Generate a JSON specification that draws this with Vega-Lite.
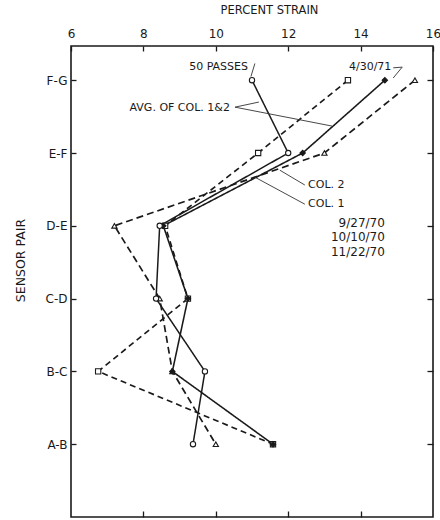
{
  "$schema": "https://vega.github.io/schema/vega-lite/v6.json",
  "width": 362,
  "height": 471,
  "autosize": {"type": "none"},
  "padding": {"left": 71, "top": 46, "right": 7, "bottom": 3},
  "background": "white",
  "config": {
    "view": {"stroke": "#1a1a1a", "strokeWidth": 1.6},
    "font": "DejaVu Sans",
    "axis": {"labelColor": "#1a1a1a", "titleColor": "#1a1a1a", "tickColor": "#1a1a1a", "grid": false, "domain": false, "tickWidth": 1.3}
  },
  "datasets": {
    "series": [
      {"series": "tri", "pair": "F-G", "level": 6, "strain": 15.5},
      {"series": "tri", "pair": "E-F", "level": 5, "strain": 13.0},
      {"series": "tri", "pair": "D-E", "level": 4, "strain": 7.2},
      {"series": "tri", "pair": "C-D", "level": 3, "strain": 8.45},
      {"series": "tri", "pair": "B-C", "level": 2, "strain": 8.8},
      {"series": "tri", "pair": "A-B", "level": 1, "strain": 10.0},
      {"series": "sq", "pair": "F-G", "level": 6, "strain": 13.65},
      {"series": "sq", "pair": "E-F", "level": 5, "strain": 11.17},
      {"series": "sq", "pair": "D-E", "level": 4, "strain": 8.6},
      {"series": "sq", "pair": "C-D", "level": 3, "strain": 9.23},
      {"series": "sq", "pair": "B-C", "level": 2, "strain": 6.75},
      {"series": "sq", "pair": "A-B", "level": 1, "strain": 11.58},
      {"series": "dia", "pair": "F-G", "level": 6, "strain": 14.67},
      {"series": "dia", "pair": "E-F", "level": 5, "strain": 12.4},
      {"series": "dia", "pair": "D-E", "level": 4, "strain": 8.55},
      {"series": "dia", "pair": "C-D", "level": 3, "strain": 9.23},
      {"series": "dia", "pair": "B-C", "level": 2, "strain": 8.8},
      {"series": "dia", "pair": "A-B", "level": 1, "strain": 11.58},
      {"series": "circ", "pair": "F-G", "level": 6, "strain": 11.0},
      {"series": "circ", "pair": "E-F", "level": 5, "strain": 12.0},
      {"series": "circ", "pair": "D-E", "level": 4, "strain": 8.45},
      {"series": "circ", "pair": "C-D", "level": 3, "strain": 8.35},
      {"series": "circ", "pair": "B-C", "level": 2, "strain": 9.7},
      {"series": "circ", "pair": "A-B", "level": 1, "strain": 9.37}
    ],
    "labelsRight": [
      {"text": "50 PASSES", "x": 10.89, "y": 6.18},
      {"text": "AVG. OF COL. 1&2", "x": 10.39, "y": 5.615},
      {"text": "4/30/71", "x": 14.85, "y": 6.18}
    ],
    "dates": [
      {"text": "9/27/70", "x": 14.67, "y": 4.036},
      {"text": "10/10/70", "x": 14.67, "y": 3.843},
      {"text": "11/22/70", "x": 14.67, "y": 3.637}
    ],
    "labelsLeft": [
      {"text": "COL. 2", "x": 12.55, "y": 4.558},
      {"text": "COL. 1", "x": 12.55, "y": 4.297}
    ],
    "leaders": [
      {"x": 11.08, "y": 6.23, "x2": 10.97, "y2": 6.05},
      {"x": 14.9, "y": 6.17, "x2": 15.15, "y2": 6.18},
      {"x": 15.15, "y": 6.18, "x2": 14.9, "y2": 6.03},
      {"x": 10.53, "y": 5.63, "x2": 11.19, "y2": 5.7},
      {"x": 10.53, "y": 5.63, "x2": 13.21, "y2": 5.37},
      {"x": 12.46, "y": 4.56, "x2": 11.77, "y2": 4.764},
      {"x": 12.46, "y": 4.297, "x2": 11.08, "y2": 4.668}
    ]
  },
  "resolve": {"axis": {"x": "independent", "y": "independent"}},
  "layer": [
    {
      "data": {"name": "series"},
      "mark": {"type": "line", "color": "#1a1a1a"},
      "encoding": {
        "x": {"field": "strain", "type": "quantitative", "scale": {"domain": [6, 16], "nice": false, "zero": false},
          "axis": {"orient": "top", "values": [6, 8, 10, 12, 14, 16], "tickSize": -5, "labelPadding": 11, "labelFontSize": 12, "labelFlush": false,
            "title": "PERCENT STRAIN", "titleFontSize": 11.5, "titleFontWeight": "normal", "titleX": 198, "titleY": -33, "titleBaseline": "alphabetic", "titleAlign": "center", "titleAnchor": null}},
        "y": {"field": "level", "type": "quantitative", "scale": {"domain": [0, 6.47], "nice": false, "zero": false},
          "axis": {"orient": "left", "values": [1, 2, 3, 4, 5, 6], "tickSize": -5, "labelPadding": 9, "labelFontSize": 12,
            "labelExpr": "['','A-B','B-C','C-D','D-E','E-F','F-G'][datum.value]",
            "title": "SENSOR PAIR", "titleFontSize": 12.5, "titleFontWeight": "normal", "titleX": -51, "titleY": 214, "titleAngle": -90, "titleBaseline": "middle", "titleAlign": "center", "titleAnchor": null}},
        "detail": {"field": "series"},
        "order": {"field": "level", "type": "quantitative", "sort": "descending"},
        "strokeDash": {"field": "series", "type": "nominal", "scale": {"domain": ["tri", "sq", "dia", "circ"], "range": [[7, 4], [6, 4], [1, 0], [1, 0]]}, "legend": null},
        "strokeWidth": {"field": "series", "type": "nominal", "scale": {"domain": ["tri", "sq", "dia", "circ"], "range": [1.7, 1.5, 1.9, 1.3]}, "legend": null}
      }
    },
    {
      "data": {"name": "series"},
      "mark": {"type": "point", "stroke": "#1a1a1a", "strokeWidth": 1.1, "opacity": 1},
      "encoding": {
        "x": {"field": "strain", "type": "quantitative", "axis": null},
        "y": {"field": "level", "type": "quantitative", "axis": null},
        "shape": {"field": "series", "type": "nominal", "scale": {"domain": ["tri", "sq", "dia", "circ"], "range": ["triangle-up", "square", "diamond", "circle"]}, "legend": null},
        "fill": {"field": "series", "type": "nominal", "scale": {"domain": ["tri", "sq", "dia", "circ"], "range": ["white", "white", "#1a1a1a", "white"]}, "legend": null},
        "size": {"value": 28}
      }
    },
    {
      "data": {"name": "leaders"},
      "mark": {"type": "rule", "color": "#333333", "strokeWidth": 0.9},
      "encoding": {
        "x": {"field": "x", "type": "quantitative", "axis": null},
        "y": {"field": "y", "type": "quantitative", "axis": null},
        "x2": {"field": "x2"},
        "y2": {"field": "y2"}
      }
    },
    {
      "data": {"name": "labelsRight"},
      "mark": {"type": "text", "align": "right", "baseline": "middle", "fontSize": 11, "color": "#1a1a1a"},
      "encoding": {
        "x": {"field": "x", "type": "quantitative", "axis": null},
        "y": {"field": "y", "type": "quantitative", "axis": null},
        "text": {"field": "text"}
      }
    },
    {
      "data": {"name": "dates"},
      "mark": {"type": "text", "align": "right", "baseline": "middle", "fontSize": 12, "color": "#1a1a1a"},
      "encoding": {
        "x": {"field": "x", "type": "quantitative", "axis": null},
        "y": {"field": "y", "type": "quantitative", "axis": null},
        "text": {"field": "text"}
      }
    },
    {
      "data": {"name": "labelsLeft"},
      "mark": {"type": "text", "align": "left", "baseline": "middle", "fontSize": 11, "color": "#1a1a1a"},
      "encoding": {
        "x": {"field": "x", "type": "quantitative",
          "axis": {"orient": "bottom", "values": [8, 10, 12, 14], "tickSize": -6, "labels": false, "title": null}},
        "y": {"field": "y", "type": "quantitative",
          "axis": {"orient": "right", "values": [1, 2, 3, 4, 5, 6], "tickSize": -6, "labels": false, "title": null}},
        "text": {"field": "text"}
      }
    }
  ]
}
